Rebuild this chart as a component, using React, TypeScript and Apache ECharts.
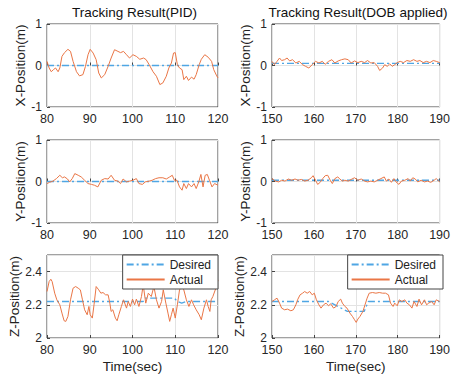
import React, { useEffect, useRef } from "react";
import * as echarts from "echarts";

// ---------- data (time [s], value [m]) ----------
const pidXDesired = [[80, 0], [120, 0]];
const pidXActual = [
  [80, 0.1], [80.5, -0.06], [81, -0.15], [81.5, -0.1], [82, -0.06], [82.6, -0.15], [83, -0.06], [83.5, 0.22],
  [84.1, 0.31], [84.9, 0.39], [85.5, 0.34], [86.1, 0.1], [86.9, -0.15], [87.6, -0.25], [88.4, -0.22], [89, -0.02],
  [89.6, 0.26], [90.1, 0.39], [90.8, 0.3], [91.5, 0.14], [92.1, -0.18], [92.7, -0.3], [93.5, -0.22], [94.3, -0.02],
  [95, 0.18], [95.8, 0.38], [96.6, 0.34], [97.2, 0.31], [97.9, 0.34], [98.6, 0.26], [99.3, 0.18], [100.1, 0.26],
  [100.9, 0.22], [101.7, 0.15], [102.6, 0.18], [103.2, 0.14], [103.9, 0.02], [104.8, -0.15], [105.6, -0.26],
  [106.4, -0.46], [107.1, -0.42], [107.9, -0.26], [108.5, -0.06], [109.1, 0.06], [109.6, 0.3], [110, 0.31],
  [110.5, 0.02], [111, -0.06], [111.6, -0.1], [112, -0.34], [112.6, -0.26], [113.1, -0.36], [113.8, -0.28],
  [114.4, -0.33], [114.9, -0.22], [115.6, 0.02], [116.1, 0.15], [116.9, 0.26], [117.7, 0.2], [118.5, 0.1],
  [119, -0.1], [119.7, -0.25], [120, -0.3],
];

const dobXDesired = [[150, 0.05], [190, 0.05]];
const dobXActual = [
  [150, 0.1], [150.6, 0.02], [151.2, 0.1], [151.8, 0.18], [152.3, 0.12], [153, 0.14], [153.6, 0.18], [154.2, 0.11],
  [154.9, 0.14], [155.7, 0.06], [156.5, 0.1], [157.3, 0.02], [158, -0.02], [158.8, -0.06], [159.6, 0.02],
  [160.4, 0.1], [161.2, 0.06], [162, 0.1], [162.7, 0.03], [163.5, 0.1], [164.3, 0.14], [165, 0.06], [165.8, 0.11],
  [166.6, 0.14], [167.4, 0.16], [168.2, 0.14], [168.9, 0.06], [169.7, 0.11], [170.5, 0.07], [171.3, 0.1],
  [172.1, 0.07], [172.8, 0.12], [173.6, 0.06], [174.4, 0.07], [175.2, -0.02], [175.7, -0.12], [176.4, -0.06],
  [176.9, 0.02], [177.5, -0.02], [178.1, 0.04], [178.7, -0.02], [179.3, 0.02], [179.9, 0.07], [180.6, 0.1],
  [181.4, 0.07], [182.2, 0.12], [183, 0.1], [183.8, 0.14], [184.6, 0.1], [185.3, 0.12], [186.1, 0.07],
  [186.9, 0.1], [187.7, 0.07], [188.5, 0.12], [189.2, 0.1], [190, 0.07],
];

const pidYDesired = [[80, 0], [120, 0]];
const pidYActual = [
  [80, -0.05], [80.6, -0.02], [81.4, 0.01], [82.2, 0.07], [83, 0.15], [83.6, 0.09], [84.1, 0.11], [84.8, 0.06],
  [85.3, -0.01], [85.9, 0.07], [86.5, 0.19], [87.3, 0.15], [88, 0.11], [88.8, 0.03], [89.6, -0.05], [90.4, -0.07],
  [91.1, -0.09], [91.9, -0.13], [92.7, 0.03], [93.5, 0.07], [94.3, 0.06], [95, 0.15], [95.8, 0.03], [96.6, 0.01],
  [97.2, -0.05], [97.8, 0.06], [98.6, -0.01], [99.3, 0.01], [100.1, 0.03], [100.9, 0.07], [101.5, -0.05],
  [102.3, -0.07], [103, -0.01], [103.9, 0.01], [104.6, 0.03], [105.4, 0.07], [106.2, 0.09], [107.1, 0.09],
  [107.9, 0.06], [108.7, 0.11], [109.3, 0.15], [109.8, 0.03], [110.4, 0.03], [111, -0.13], [111.6, -0.21],
  [112, -0.05], [112.6, -0.17], [113.1, -0.05], [113.8, -0.13], [114.4, -0.05], [114.9, -0.17], [115.5, -0.01],
  [116, 0.17], [116.5, -0.13], [117, 0.15], [117.5, 0.17], [118, 0.03], [118.6, -0.13], [119.2, -0.05], [120, -0.09],
];

const dobYDesired = [[150, 0.03], [190, 0.03]];
const dobYActual = [
  [150, 0.07], [150.8, 0.01], [151.6, -0.01], [152.3, 0.03], [153.1, 0.01], [153.9, 0.06], [154.7, 0.03],
  [155.5, 0.06], [156.2, 0.03], [157, 0.05], [157.8, 0.01], [158.6, 0.03], [159.4, 0.09], [159.8, 0.14],
  [160.4, 0.03], [160.9, -0.07], [161.5, -0.02], [162.1, 0.07], [162.7, 0.14], [163.3, 0.15], [163.9, 0.03],
  [164.4, -0.05], [165, 0.07], [165.7, 0.11], [166.2, 0.06], [166.8, 0.01], [167.4, 0.03], [168.2, 0.01],
  [168.9, 0.05], [169.7, 0.09], [170.5, 0.03], [171.3, 0.06], [172.1, 0.01], [172.8, -0.01], [173.6, 0.01],
  [174.4, -0.01], [175.2, 0.03], [176, 0.07], [176.8, 0.11], [177.3, 0.01], [177.9, 0.06], [178.5, -0.02],
  [179.1, 0.07], [179.6, -0.01], [180.3, -0.07], [180.9, 0.01], [181.7, 0.03], [182.5, 0.07], [183, 0.01],
  [183.6, 0.09], [184.2, 0.06], [184.8, -0.01], [185.6, 0.03], [186.4, -0.01], [187.1, 0.01], [187.9, -0.02],
  [188.7, 0.03], [189.2, 0.07], [190, -0.01],
];

const pidZDesired = [[80, 2.22], [102.5, 2.22], [103, 2.24], [109.8, 2.24], [110.5, 2.22], [111.5, 2.21], [112.5, 2.22], [120, 2.22]];
const pidZActual = [
  [80, 2.28], [80.5, 2.34], [80.9, 2.354], [81.2, 2.34], [81.8, 2.27], [82.3, 2.23], [83, 2.2], [83.5, 2.15],
  [84, 2.104], [84.4, 2.1], [84.9, 2.13], [85.5, 2.23], [86.1, 2.3], [86.7, 2.31], [87.3, 2.3], [87.8, 2.29],
  [88.3, 2.23], [88.8, 2.17], [89.4, 2.14], [89.8, 2.19], [90.1, 2.14], [90.6, 2.12], [91, 2.2], [91.5, 2.31],
  [92.1, 2.29], [92.6, 2.27], [93.1, 2.274], [93.7, 2.26], [94.3, 2.26], [94.7, 2.21], [95, 2.16], [95.4, 2.17],
  [96, 2.12], [96.4, 2.104], [96.8, 2.14], [97.4, 2.19], [97.9, 2.23], [98.6, 2.18], [99, 2.22], [99.5, 2.19],
  [100, 2.234], [100.5, 2.2], [100.9, 2.234], [101.5, 2.19], [102.1, 2.25], [102.5, 2.32], [103.1, 2.21],
  [103.7, 2.27], [104.4, 2.25], [105, 2.31], [105.6, 2.23], [106.2, 2.18], [106.8, 2.22], [107.2, 2.29],
  [107.8, 2.21], [108.3, 2.15], [108.7, 2.1], [109.1, 2.14], [109.5, 2.18], [110, 2.12], [110.5, 2.2],
  [111, 2.29], [111.6, 2.31], [112, 2.29], [112.6, 2.23], [113.2, 2.19], [113.8, 2.23], [114.3, 2.2],
  [114.9, 2.17], [115.6, 2.14], [116.1, 2.11], [116.7, 2.18], [117.3, 2.23], [117.7, 2.19], [118.1, 2.16],
  [118.4, 2.23], [118.8, 2.25], [119.5, 2.3], [120, 2.35],
];

const dobZDesired = [[150, 2.22], [163.5, 2.22], [168, 2.16], [172, 2.16], [173, 2.22], [190, 2.22]];
const dobZActual = [
  [150, 2.22], [150.6, 2.23], [151.2, 2.24], [151.8, 2.21], [152.3, 2.18], [153, 2.17], [153.7, 2.174],
  [154.5, 2.164], [155.1, 2.17], [155.7, 2.2], [156.1, 2.23], [156.7, 2.26], [157.3, 2.27], [157.8, 2.28],
  [158.4, 2.27], [159, 2.28], [159.6, 2.26], [160.1, 2.27], [160.6, 2.23], [161.2, 2.2], [161.7, 2.18],
  [162.3, 2.2], [162.9, 2.21], [163.5, 2.194], [164, 2.206], [164.7, 2.18], [165.3, 2.19], [165.8, 2.22],
  [166.4, 2.234], [166.8, 2.21], [167.4, 2.19], [167.9, 2.18], [168.6, 2.15], [169.2, 2.13], [169.7, 2.11],
  [170.1, 2.094], [170.5, 2.114], [171, 2.13], [171.7, 2.16], [172.2, 2.2], [172.7, 2.24], [173.2, 2.27],
  [174, 2.274], [174.8, 2.27], [175.6, 2.274], [176.4, 2.27], [177.1, 2.27], [177.8, 2.26], [178.3, 2.21],
  [178.9, 2.19], [179.3, 2.21], [179.9, 2.194], [180.4, 2.23], [181, 2.22], [181.7, 2.23], [182.2, 2.21],
  [182.8, 2.2], [183.4, 2.18], [183.9, 2.22], [184.6, 2.19], [185.1, 2.234], [185.7, 2.2], [186.4, 2.23],
  [186.9, 2.2], [187.4, 2.21], [188.1, 2.22], [188.7, 2.2], [189.2, 2.23], [190, 2.22],
];

const titles = ["Tracking Result(PID)", "Tracking Result(DOB applied)"];
const yNames = ["X-Position(m)", "Y-Position(m)", "Z-Position(m)"];
const xName = "Time(sec)";
const xRanges = [[80, 120], [150, 190]];
const posRange = [-1, 1, 1];
const zRange = [2, 2.5, 0.2];
const legendNames = ["Desired", "Actual"];

const FONT = "'Liberation Sans', Arial, Helvetica, sans-serif";
const BLUE = "#4fa6e4";
const ORANGE = "#ea7646";
const AXIS = "#454545";
const GRID = "#e3e3e3";

export default function App() {
  const ref = useRef<HTMLDivElement>(null);

  useEffect(() => {
    const chart = echarts.init(ref.current as HTMLDivElement, null, { renderer: "svg" });
    const lefts = [47, 272];
    const tops = [24, 140, 255];
    const W = 171;
    const H = 83;

    const panels = [
      { r: 0, c: 0, d: pidXDesired, a: pidXActual },
      { r: 0, c: 1, d: dobXDesired, a: dobXActual },
      { r: 1, c: 0, d: pidYDesired, a: pidYActual },
      { r: 1, c: 1, d: dobYDesired, a: dobYActual },
      { r: 2, c: 0, d: pidZDesired, a: pidZActual },
      { r: 2, c: 1, d: dobZDesired, a: dobZActual },
    ];

    const grid: any[] = [];
    const xAxis: any[] = [];
    const yAxis: any[] = [];
    const series: any[] = [];

    panels.forEach((p, i) => {
      grid.push({
        left: lefts[p.c],
        top: tops[p.r],
        width: W,
        height: H,
        show: true,
        backgroundColor: "#fff",
        borderColor: AXIS,
        borderWidth: 1,
      });
      const xr = xRanges[p.c];
      xAxis.push({
        type: "value",
        gridIndex: i,
        min: xr[0],
        max: xr[1],
        interval: 10,
        name: p.r === 2 ? xName : "",
        nameLocation: "middle",
        nameGap: 21,
        nameTextStyle: { fontFamily: FONT, fontSize: 13.5, color: "#222" },
        axisLine: { show: false },
        axisTick: { show: true, inside: true, length: 3, lineStyle: { color: AXIS } },
        axisLabel: { fontFamily: FONT, fontSize: 12.5, color: "#262626", margin: 5 },
        splitLine: { show: true, lineStyle: { color: GRID, width: 1 } },
      });
      const yr = p.r === 2 ? zRange : posRange;
      yAxis.push({
        type: "value",
        gridIndex: i,
        min: yr[0],
        max: yr[1],
        interval: yr[2],
        name: yNames[p.r],
        nameLocation: "middle",
        nameGap: p.r === 2 ? 26 : 20,
        nameMoveOverlap: false,
        nameTextStyle: { fontFamily: FONT, fontSize: 13.5, color: "#222" },
        axisLine: { show: false },
        axisTick: { show: true, inside: true, length: 3, lineStyle: { color: AXIS } },
        axisLabel: {
          fontFamily: FONT,
          fontSize: 12,
          color: "#262626",
          margin: 5,
          showMaxLabel: p.r !== 2,
          formatter: (v: number) => (p.r === 2 ? (Math.abs(v - 2.5) < 1e-6 ? "" : Number(v.toFixed(1)).toString()) : String(v)),
        },
        splitLine: { show: true, lineStyle: { color: GRID, width: 1 } },
      });
      series.push({
        name: legendNames[0],
        type: "line",
        xAxisIndex: i,
        yAxisIndex: i,
        data: p.d,
        symbol: "none",
        lineStyle: { color: BLUE, width: 1.3, type: [7, 3, 2, 3] },
        itemStyle: { color: BLUE },
        z: 2,
      });
      series.push({
        name: legendNames[1],
        type: "line",
        xAxisIndex: i,
        yAxisIndex: i,
        data: p.a,
        symbol: "none",
        lineStyle: { color: ORANGE, width: 1 },
        itemStyle: { color: ORANGE },
        z: 3,
      });
    });

    const legendBase = {
      top: 255,
      orient: "vertical",
      data: legendNames,
      itemWidth: 38,
      itemHeight: 13,
      itemGap: 2,
      padding: [3, 7, 3, 3],
      backgroundColor: "#fff",
      borderColor: AXIS,
      borderWidth: 1,
      borderRadius: 0,
      selectedMode: false,
      itemStyle: { opacity: 0 },
      textStyle: { fontFamily: FONT, fontSize: 12, color: "#222", lineHeight: 13 },
      z: 10,
    };

    const titleStyle = { fontFamily: FONT, fontSize: 13.5, fontWeight: "normal", color: "#111" };

    chart.setOption({
      animation: false,
      backgroundColor: "#fff",
      title: [
        {
          text: titles[0],
          left: lefts[0] + W / 2,
          textAlign: "center",
          top: 0,
          padding: [5, 2],
          textStyle: titleStyle,
        },
        {
          text: titles[1],
          left: lefts[1] + W / 2 - 1.5,
          textAlign: "center",
          top: 0,
          padding: [5, 2],
          textStyle: titleStyle,
        },
      ],
      legend: [
        { ...legendBase, right: 453 - (lefts[0] + W) },
        { ...legendBase, right: 453 - (lefts[1] + W) },
      ],
      grid,
      xAxis,
      yAxis,
      series,
    });

    return () => chart.dispose();
  }, []);

  return (
    <div
      ref={ref}
      style={{ position: "fixed", left: 0, top: 0, width: 453, height: 381, background: "#fff" }}
    />
  );
}
